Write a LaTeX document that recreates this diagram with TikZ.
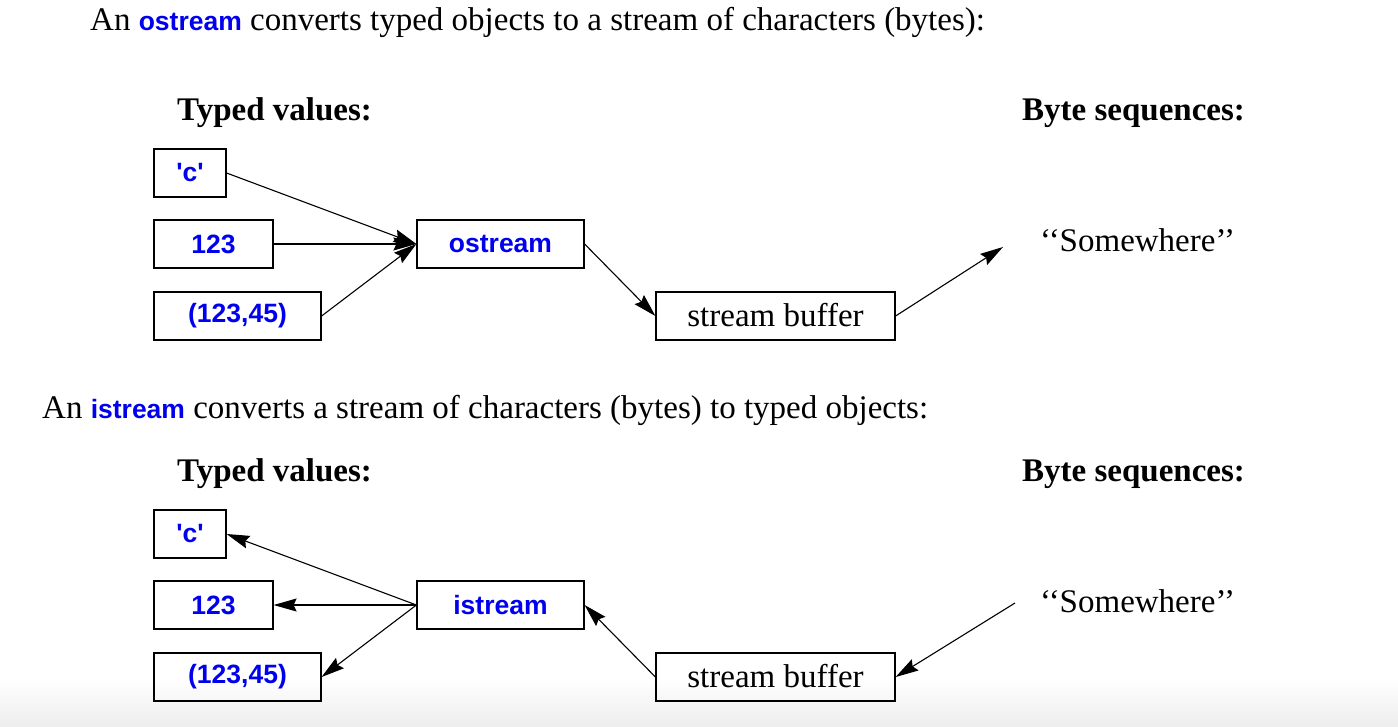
\documentclass[tikz,border=0pt]{standalone}
\usepackage{fontspec}
\setmainfont{Liberation Serif}
\newfontfamily\codefont{Liberation Sans}
\usetikzlibrary{arrows.meta}
\usetikzlibrary{positioning, shapes}

\definecolor{codeblue}{RGB}{0,0,238}
\newcommand{\code}[1]{{\codefont\bfseries\fontsize{26.5}{30}\selectfont\textcolor{codeblue}{#1}}}

\tikzset{
  txt/.style={font=\fontsize{33}{38}\selectfont, inner sep=0pt, anchor=base west},
  head/.style={txt, font=\bfseries\fontsize{33}{38}\selectfont},
  valbox/.style={draw, line width=1.2pt, minimum height=48pt, inner sep=0pt,
    font=\codefont\bfseries\fontsize{26.5}{30}\selectfont, text=codeblue},
  bufbox/.style={draw, line width=1.2pt, minimum height=48pt, minimum width=239pt,
    inner sep=0pt, text depth=2pt, font=\fontsize{33}{38}\selectfont},
  flow/.style={-{Stealth[length=23pt,width=13pt,inset=3pt]}, line width=1.1pt}
}

\begin{document}
\begin{tikzpicture}[x=1pt,y=-1pt]
\useasboundingbox (0,0) rectangle (1398,726);
\shade[top color=white, bottom color=black!7] (0,678) rectangle (1398,726);

% ostream
\node [txt] (otitle) at (90,30) {An \code{ostream} converts typed objects to a stream of characters (bytes):};
\node [head] (otyped) at (177,120) {Typed values:};
\node [head] (obytes) at (1022,120) {Byte sequences:};

\node [valbox, minimum width=72pt] (oc) at (190,173) {'c'};
\node [valbox, minimum width=119pt] (onum) at (213.5,244) {123};
\node [valbox, minimum width=167pt] (opair) at (237.5,316) {(123,45)};
\node [valbox, minimum width=167pt] (os) at (500.5,244) {ostream};
\node [bufbox] (obuf) at (775.5,316) {stream buffer};
\node [txt] (osome) at (1040,251) {`{}`Somewhere'{}'};
\coordinate (oend) at (1003,247);

\draw [flow] (oc.east) -- (os.west);
\draw [flow] (onum.east) -- (os.west);
\draw [flow] (opair.east) -- (os.west);
\draw [flow] (os.east) -- (obuf.west);
\draw [flow] (obuf.east) -- (oend);

% istream
\node [txt] (ititle) at (42,418) {An \code{istream} converts a stream of characters (bytes) to typed objects:};
\node [head] (ityped) at (177,481) {Typed values:};
\node [head] (ibytes) at (1022,481) {Byte sequences:};

\node [valbox, minimum width=72pt] (ic) at (190,534) {'c'};
\node [valbox, minimum width=119pt] (inum) at (213.5,605) {123};
\node [valbox, minimum width=167pt] (ipair) at (237.5,677) {(123,45)};
\node [valbox, minimum width=167pt] (is) at (500.5,605) {istream};
\node [bufbox] (ibuf) at (775.5,677) {stream buffer};
\node [txt] (isome) at (1040,612) {`{}`Somewhere'{}'};
\coordinate (istart) at (1015,603);

\draw [flow] (is.west) -- (ic.east);
\draw [flow] (is.west) -- (inum.east);
\draw [flow] (is.west) -- (ipair.east);
\draw [flow] (ibuf.west) -- (is.east);
\draw [flow] (istart) -- (ibuf.east);
\end{tikzpicture}
\end{document}
